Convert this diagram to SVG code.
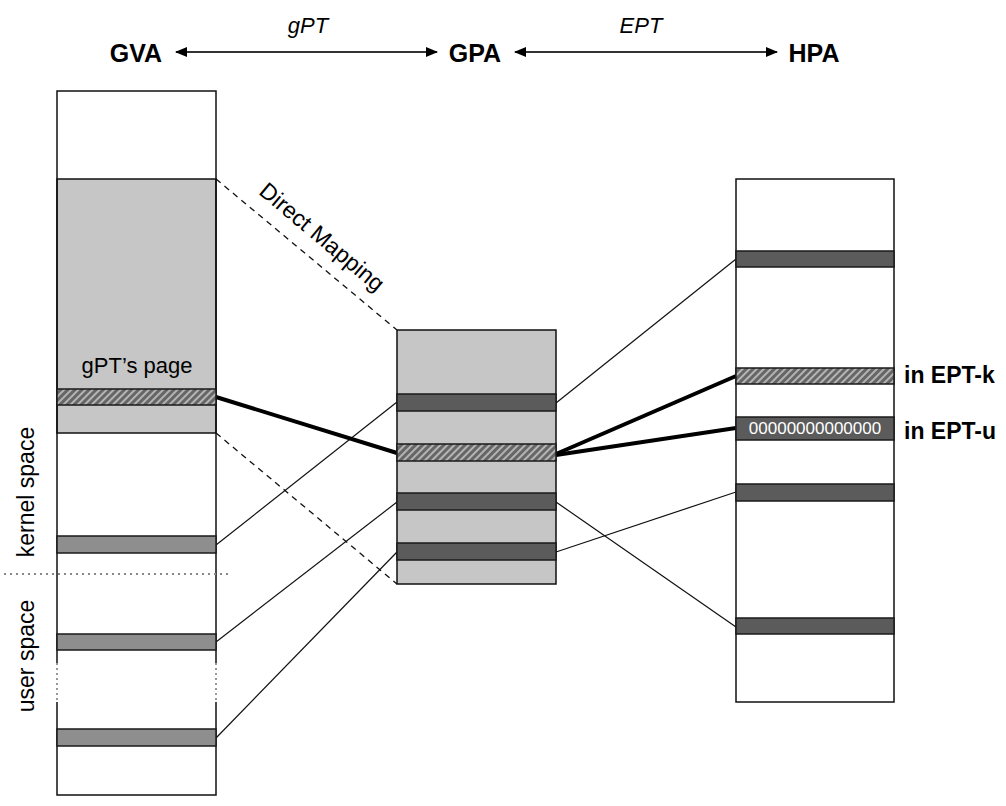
<svg xmlns="http://www.w3.org/2000/svg" width="1006" height="806" viewBox="0 0 1006 806">
<style>
text{font-family:"Liberation Sans",Arial,sans-serif;fill:#000}
.hdr{font-size:25px;font-weight:bold;text-anchor:middle}
.it{font-size:22px;font-style:italic;text-anchor:middle}
.lbl{font-size:22px}
.side{font-size:23px;text-anchor:middle}
.ept{font-size:23px;font-weight:bold}
.col{stroke:#111;stroke-width:1.5}
.strip{stroke:#1a1a1a;stroke-width:1.5}
.gvs{fill:#8e8e8e}
.dk{fill:#5b5b5b}
.hat{fill:url(#hatch)}
.thin{stroke:#111;stroke-width:1.2;fill:none}
.thick{stroke:#000;stroke-width:4;fill:none}
.dash{stroke:#111;stroke-width:1.3;stroke-dasharray:6,5;fill:none}
</style>
<defs>
<pattern id="hatch" patternUnits="userSpaceOnUse" width="5" height="5" patternTransform="rotate(45)">
<rect width="5" height="5" fill="#666"/>
<rect width="2" height="5" fill="#b4b4b4"/>
</pattern>
<marker id="ah" viewBox="0 0 12 10" refX="11" refY="5" markerWidth="12" markerHeight="10" markerUnits="userSpaceOnUse" orient="auto-start-reverse">
<path d="M0,0 L12,5 L0,10 z" fill="#000"/>
</marker>
</defs>
<rect width="1006" height="806" fill="#fff"/>

<g id="header">
<text class="hdr" x="136" y="62">GVA</text>
<text class="hdr" x="475" y="62">GPA</text>
<text class="hdr" x="814" y="62">HPA</text>
<text class="it" x="308" y="33">gPT</text>
<text class="it" x="641" y="33">EPT</text>
<line x1="176" y1="52" x2="437" y2="52" stroke="#333" stroke-width="2.2" marker-start="url(#ah)" marker-end="url(#ah)"/>
<line x1="515" y1="52" x2="777" y2="52" stroke="#333" stroke-width="2.2" marker-start="url(#ah)" marker-end="url(#ah)"/>
</g>

<g id="connectors">
<line class="dash" x1="216" y1="179" x2="397" y2="330"/>
<line class="dash" x1="216" y1="433" x2="397" y2="584"/>
<line class="thin" x1="216" y1="545" x2="397" y2="402"/>
<line class="thin" x1="216" y1="642" x2="397" y2="502"/>
<line class="thin" x1="216" y1="738" x2="397" y2="552"/>
<line class="thin" x1="556" y1="403" x2="736" y2="259"/>
<line class="thin" x1="556" y1="502" x2="736" y2="627"/>
<line class="thin" x1="556" y1="552" x2="736" y2="492"/>
<line class="thick" x1="216" y1="397" x2="397" y2="453"/>
<line class="thick" x1="556" y1="454" x2="736" y2="376"/>
<line class="thick" x1="556" y1="455" x2="736" y2="428"/>
<text transform="translate(317,243) rotate(40)" text-anchor="middle" font-size="23">Direct Mapping</text>
</g>

<g id="gva">
<rect x="57" y="91" width="159" height="704" fill="#fff"/>
<rect x="57" y="179" width="159" height="254" fill="#c6c6c6" class="col"/>
<path class="col" fill="none" d="M57,663 V91 H216 V663 M57,702 V795 H216 V702"/>
<path d="M57,663 V702 M216,663 V702" stroke="#777" stroke-width="1.5" stroke-dasharray="2,3" fill="none"/>
<text class="lbl" x="137" y="373" text-anchor="middle">gPT’s page</text>
<rect class="strip hat" x="57" y="389" width="159" height="16"/>
<rect class="strip gvs" x="57" y="536" width="159" height="17"/>
<rect class="strip gvs" x="57" y="634" width="159" height="16"/>
<rect class="strip gvs" x="57" y="729" width="159" height="17"/>
</g>

<g id="space-divider">
<line x1="4" y1="574" x2="231" y2="574" stroke="#888" stroke-width="2" stroke-dasharray="2,4"/>
<text class="side" transform="translate(34,492) rotate(-90)">kernel space</text>
<text class="side" transform="translate(34,656) rotate(-90)">user space</text>
</g>

<g id="gpa">
<rect class="col" x="397" y="330" width="159" height="254" fill="#c6c6c6"/>
<rect class="strip dk" x="397" y="394" width="159" height="17"/>
<rect class="strip hat" x="397" y="444" width="159" height="17"/>
<rect class="strip dk" x="397" y="493" width="159" height="17"/>
<rect class="strip dk" x="397" y="543" width="159" height="17"/>
</g>

<g id="hpa">
<rect class="col" x="736" y="179" width="158" height="523" fill="#fff"/>
<rect class="strip dk" x="736" y="251" width="158" height="16"/>
<rect class="strip hat" x="736" y="368" width="158" height="16"/>
<rect class="strip dk" x="736" y="417" width="158" height="23"/>
<text x="815" y="434" text-anchor="middle" font-size="17" style="fill:#fff">00000000000000</text>
<rect class="strip dk" x="736" y="484" width="158" height="17"/>
<rect class="strip dk" x="736" y="618" width="158" height="16"/>
<text class="ept" x="904" y="383">in EPT-k</text>
<text class="ept" x="904" y="439">in EPT-u</text>
</g>
</svg>
